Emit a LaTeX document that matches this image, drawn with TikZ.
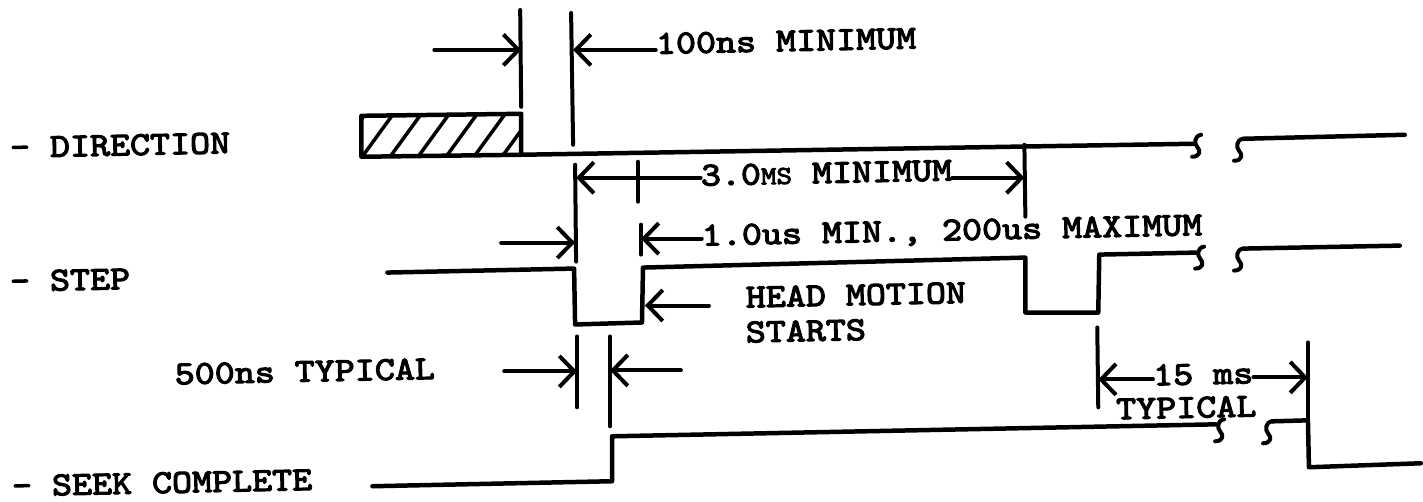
\documentclass[tikz,border=0pt]{standalone}
\usepackage{fontspec}
\newfontfamily\typer{lmmono10-regular.otf}[FakeBold=3.5, FakeStretch=1.14]
\usetikzlibrary{arrows.meta}

\begin{document}
\begin{tikzpicture}[
    x=1pt, y=-1pt,
    line cap=round, line join=round,
    sig/.style={line width=4.5pt},
    tick/.style={line width=4pt},
    dim/.style={line width=4pt, -{Straight Barb[length=15pt,width=31pt]}},
    lbl/.style={font=\fontsize{33.5}{36}\typer, inner sep=0pt, anchor=base west, rotate=1.2},
    brk/.pic={\draw[line width=4pt] (5,-11) .. controls (-2,-10) and (-2,-2) .. (1,1) .. controls (5,5) and (4,11) .. (-4,11);},
]
\path[fill=white] (0,0) rectangle (1423,502);

% Signal names
\node[lbl] (dir) at (10,158) {- DIRECTION};
\node[lbl] (stp) at (10,292) {- STEP};
\node[lbl] (seek) at (12,497) {- SEEK COMPLETE};

% Timing labels
\node[lbl] (min100) at (657,54) {100ns MINIMUM};
\node[lbl] (min30) at (702,186) {3.0{\fontsize{26}{28}\selectfont MS} MINIMUM};
\node[lbl] (max200) at (703,246) {1.0us MIN., 200us MAXIMUM};
\node[lbl] (head) at (747,308) {HEAD MOTION};
\node[lbl] (starts) at (747,343) {STARTS};
\node[lbl] (typ500) at (175,385) {500ns TYPICAL};
\node[lbl] (ms15) at (1155,386) {15 ms};
\node[lbl] (typ15) at (1118,420) {TYPICAL};

% Direction: hatched (don't care) then valid
\begin{scope}
    \clip (362,116) rectangle (522,156);
    \foreach \k in {0,...,7}
        \draw[line width=3.5pt] (334+\k*28,158) -- (366+\k*28,114);
\end{scope}
\draw[sig] (362,116) -- (522,114) -- (522,155) -- (362,157) -- cycle;
\draw[sig] (522,155) -- (1195,144);
\pic at (1198,146) {brk};
\pic at (1240,150) {brk};
\draw[sig] (1245,139) -- (1407,135);

% Step pulses
\draw[sig] (388,273) -- (575,269) -- (576,325) -- (643,323) -- (644,268)
    -- (1027,258) -- (1027,313) -- (1100,313) -- (1101,255) -- (1198,253);
\pic at (1201,258) {brk};
\pic at (1240,260) {brk};
\draw[sig] (1245,249) -- (1402,246);

% Seek complete
\draw[sig] (373,487) -- (613,482) -- (613,437) -- (1218,425);
\pic at (1221,431) {brk};
\pic at (1269,433) {brk};
\draw[sig] (1274,422) -- (1310,421) -- (1311,468) -- (1423,464);

% Marker lines
\draw[tick] (521,10) -- (522,107);
\draw[tick] (572,13) -- (574,145);
\draw[tick] (576,165) -- (577,262);
\draw[tick] (639,162) -- (639,202);
\draw[tick] (642,225) -- (642,255);
\draw[tick] (1026,145) -- (1027,217);
\draw[tick] (578,337) -- (578,408);
\draw[tick] (611,337) -- (611,427);
\draw[tick] (1099,328) -- (1100,408);
\draw[tick] (1310,343) -- (1310,421);

% Dimension arrows
\coordinate (e100a) at (522,50);
\coordinate (e100b) at (574,50);
\draw[dim] (435,50) -- (e100a);
\draw[dim] (min100.west |- e100b) -- (e100b);

\coordinate (e30a) at (577,178);
\coordinate (e30b) at (1026,178);
\draw[dim] (min30.west |- e30a) -- (e30a);
\draw[dim] (min30.east |- e30b) -- (e30b);

\coordinate (e10a) at (576,243);
\coordinate (e10b) at (642,239);
\draw[dim] (502,243) -- (e10a);
\draw[dim] (max200.west |- e10b) -- (e10b);

\coordinate (ehead) at (646,306);
\draw[dim] (710,306) -- (ehead);

\coordinate (e5a) at (578,372);
\coordinate (e5b) at (611,371);
\draw[dim] (505,372) -- (e5a);
\draw[dim] (682,371) -- (e5b);

\coordinate (e15a) at (1100,380);
\coordinate (e15b) at (1310,378);
\draw[dim] (ms15.west |- e15a) -- (e15a);
\draw[dim] (ms15.east |- e15b) -- (e15b);

\end{tikzpicture}
\end{document}
